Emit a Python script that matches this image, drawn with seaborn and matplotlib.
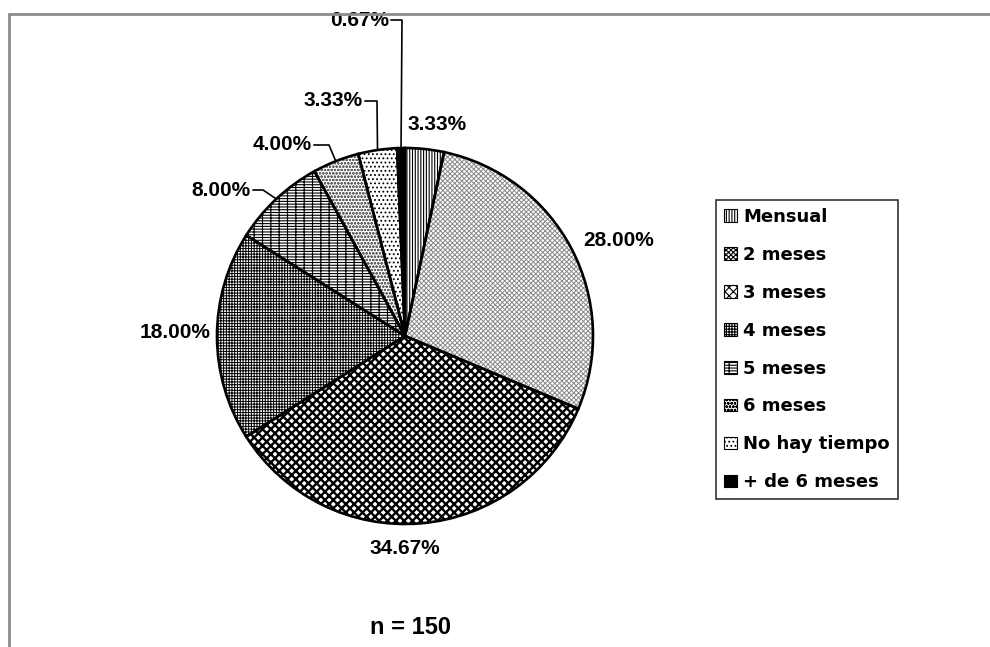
import numpy as np
import matplotlib
matplotlib.use("Agg")
import matplotlib.pyplot as plt
from matplotlib.patches import Wedge
from matplotlib.lines import Line2D
import seaborn as sns

# Intervalo entre revisiones, n = 150
categorias = ["Mensual", "2 meses", "3 meses", "4 meses", "5 meses",
              "6 meses", "No hay tiempo", "+ de 6 meses"]
porcentajes = [3.33, 28.00, 34.67, 18.00, 8.00, 4.00, 3.33, 0.67]
etiquetas = ["3.33%", "28.00%", "34.67%", "18.00%", "8.00%", "4.00%", "3.33%", "0.67%"]
nota = "n = 150"

sns.set_style("white")
plt.rcParams["font.family"] = ["Liberation Sans", "DejaVu Sans"]
plt.rcParams["font.weight"] = "bold"
plt.rcParams["text.color"] = "black"
plt.rcParams["hatch.linewidth"] = 0.8

tramas = ["||||||", "xxxxxxx", "xxxx", "++++++", "------||", "ooooo", "....", ""]
color_trama = ["black", "#8a8a8a", "black", "black", "black", "#666666", "black", "black"]
relleno = ["white", "white", "white", "white", "white", "white", "white", "black"]
grosor_trama = [0.8, 0.7, 1.7, 0.7, 0.8, 0.7, 0.8, 0.8]

W, H = 990, 647
fig = plt.figure(figsize=(W / 100, H / 100), dpi=100)
fig.patch.set_facecolor("white")

cx, cy, r = 405, 336, 188
m = 1.15
ax = fig.add_axes([(cx - m * r) / W, (H - cy - m * r) / H, 2 * m * r / W, 2 * m * r / H])

# hatched fills (hatch colour follows edgecolor)
wedges, _ = ax.pie(porcentajes, startangle=90, counterclock=False, radius=1,
                   colors=relleno, wedgeprops=dict(linewidth=0))
ax.set_xlim(-m, m)
ax.set_ylim(-m, m)
ax.set_axis_off()
for w, h, hc, fc, lw in zip(wedges, tramas, color_trama, relleno, grosor_trama):
    w.set_hatch(h)
    w.set_edgecolor(hc)
    w.set_facecolor(fc)
    if hasattr(w, "set_hatch_linewidth"):
        w.set_hatch_linewidth(lw)
    else:
        w._hatch_linewidth = lw
    w.set_linewidth(0)

# black outlines on top
for w in wedges:
    ax.add_patch(Wedge(w.center, w.r, w.theta1, w.theta2, fill=False,
                       edgecolor="black", linewidth=1.9, zorder=3))

def px(x, y):
    return (x - cx) / r, (cy - y) / r

def mid(w, rad=1.0):
    a = np.deg2rad((w.theta1 + w.theta2) / 2)
    return rad * np.cos(a), rad * np.sin(a)

fs = 15
# labels without leader lines
sin_guia = {0: (407, 125, "left"), 1: (619, 240, "center"),
            2: (405, 549, "center"), 3: (175, 333, "center")}
for i, (x, y, ha) in sin_guia.items():
    tx, ty = px(x, y)
    ax.text(tx, ty, etiquetas[i], ha=ha, va="center", fontsize=fs,
            fontweight="bold", color="black", clip_on=False)

# labels with elbow leader lines: (text right edge x, y, elbow x)
con_guia = {4: (251, 190, 263), 5: (312, 145, 329), 6: (363, 101, 377),
            7: (389, 20, 402)}
for i, (x, y, ex) in con_guia.items():
    tx, ty = px(x, y)
    ax.text(tx, ty, etiquetas[i], ha="right", va="center", fontsize=fs,
            fontweight="bold", color="black", clip_on=False)
    ex_d, _ = px(ex, y)
    mx, my = mid(wedges[i])
    ax.add_line(Line2D([tx + 0.01, ex_d, mx], [ty, ty, my], color="black",
                       linewidth=1.2, clip_on=False, zorder=4))

# legend
leg = fig.legend(wedges, categorias, loc="upper left",
                 bbox_to_anchor=(716 / W, 1 - 200 / H), frameon=True,
                 fancybox=False, shadow=False,
                 prop=dict(family="DejaVu Sans", weight="bold", size=13.0),
                 handlelength=0.7, handleheight=0.7, handletextpad=0.35,
                 labelspacing=1.1, borderpad=0.45, borderaxespad=0)
leg.get_frame().set_edgecolor("black")
leg.get_frame().set_linewidth(1.2)
for t in leg.get_texts():
    t.set_color("black")
for h in leg.legend_handles:
    h.set_edgecolor("black")
    h.set_linewidth(0.8)

fig.text(411 / W, 1 - 627 / H, nota, ha="center", va="center",
         fontsize=17, fontweight="bold", color="black")

# outer frame
fig.add_artist(Line2D([9 / W, 1], [1 - 14 / H, 1 - 14 / H], color="#8c8c8c",
                      linewidth=2, transform=fig.transFigure))
fig.add_artist(Line2D([9 / W, 9 / W], [0, 1 - 14 / H], color="#8c8c8c",
                      linewidth=2, transform=fig.transFigure))

fig.savefig("out.png", dpi=100, facecolor="white")
